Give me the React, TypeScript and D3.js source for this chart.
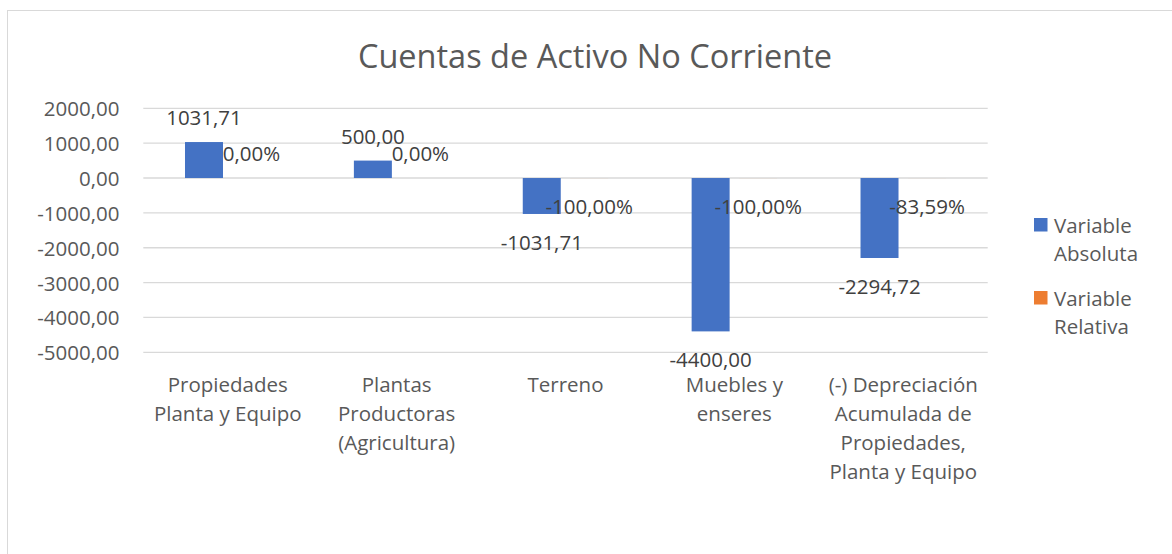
import React from "react";
import * as d3 from "d3";

const categories = [
  "Propiedades\nPlanta y Equipo",
  "Plantas\nProductoras\n(Agricultura)",
  "Terreno",
  "Muebles y\nenseres",
  "(-) Depreciación\nAcumulada de\nPropiedades,\nPlanta y Equipo",
];
const seriesNames = ["Variable\nAbsoluta", "Variable\nRelativa"];
const absoluta = [1031.71, 500.0, -1031.71, -4400.0, -2294.72];
const relativa = [0, 0, -1, -1, -0.8359];
const yTicks = [2000, 1000, 0, -1000, -2000, -3000, -4000, -5000];
const title = "Cuentas de Activo No Corriente";

const FONT = "'Open Sans', sans-serif";
const TEXT = "#595959";
const COLORS = ["#4472C4", "#ED7D31"];

const fmtNum = (v: number) => v.toFixed(2).replace(".", ",");
const fmtPct = (v: number) => (v * 100).toFixed(2).replace(".", ",") + "%";

export default function App() {
  const W = 1172, H = 554;
  const plotL = 143.3, plotR = 987.7, plotT = 108.3, plotB = 352.3;
  const x = d3.scaleBand<number>().domain(d3.range(categories.length)).range([plotL, plotR]).padding(0);
  const inner = d3
    .scaleBand<number>()
    .domain([0, 1])
    .range([0, x.bandwidth()])
    .paddingInner(0.2)
    .paddingOuter(0.878);
  const y = d3.scaleLinear().domain([-5000, 2000]).range([plotB, plotT]);
  const fs = 20.5;
  const seriesData = [absoluta, relativa];
  const fmts = [fmtNum, fmtPct];

  return (
    <svg width={W} height={H} style={{ position: "absolute", left: 0, top: 0 }} fontFamily={FONT}>
      <rect x={0} y={0} width={W} height={H} fill="#fff" />
      <rect x={7.5} y={10.5} width={1300} height={700} fill="#fff" stroke="#D9D9D9" strokeWidth={1} />
      <text x={595} y={55} fontSize={32.5} fill={TEXT} textAnchor="middle" dominantBaseline="central">
        {title}
      </text>
      {yTicks.map((t) => (
        <g key={t}>
          <line x1={plotL} x2={plotR} y1={y(t)} y2={y(t)} stroke="#D9D9D9" strokeWidth={1.3} />
          <text x={119.5} y={y(t)} fontSize={fs} fill={TEXT} textAnchor="end" dominantBaseline="central">
            {fmtNum(t)}
          </text>
        </g>
      ))}
      {seriesData.map((vals, si) =>
        vals.map((v, i) => {
          const bx = (x(i) as number) + (inner(si) as number);
          const y0 = y(0), y1 = y(v);
          return (
            <rect
              key={`b${si}-${i}`}
              x={bx}
              y={Math.min(y0, y1)}
              width={inner.bandwidth()}
              height={Math.abs(y1 - y0)}
              fill={COLORS[si]}
            />
          );
        })
      )}
      {seriesData.map((vals, si) =>
        vals.map((v, i) => {
          const cx = (x(i) as number) + (inner(si) as number) + inner.bandwidth() / 2;
          const ly = v >= 0 ? y(v) - 25 : y(v) + 28;
          return (
            <text
              key={`l${si}-${i}`}
              x={cx}
              y={ly}
              fontSize={fs}
              fill="#404040"
              textAnchor="middle"
              dominantBaseline="central"
            >
              {fmts[si](v)}
            </text>
          );
        })
      )}
      {categories.map((c, i) => {
        const cx = (x(i) as number) + x.bandwidth() / 2;
        return (
          <text key={c} x={cx} fontSize={fs} fill={TEXT} textAnchor="middle" dominantBaseline="central">
            {c.split("\n").map((ln, k) => (
              <tspan key={k} x={cx} y={384 + k * 29}>
                {ln}
              </tspan>
            ))}
          </text>
        );
      })}
      {seriesNames.map((s, si) => {
        const top = 218 + si * 73;
        return (
          <g key={s}>
            <rect x={1034} y={top} width={13.5} height={13.5} fill={COLORS[si]} />
            <text fontSize={fs} fill={TEXT} dominantBaseline="central">
              {s.split("\n").map((ln, k) => (
                <tspan key={k} x={1054} y={top + 7 + k * 28}>
                  {ln}
                </tspan>
              ))}
            </text>
          </g>
        );
      })}
    </svg>
  );
}
